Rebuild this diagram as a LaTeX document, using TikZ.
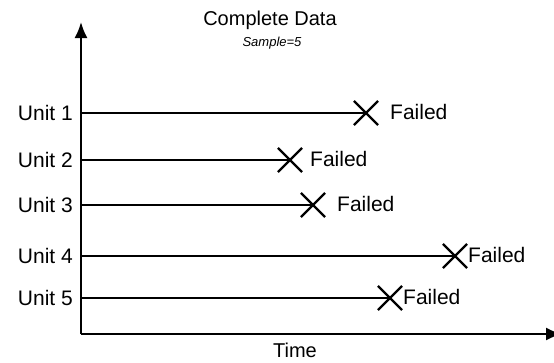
\documentclass[tikz,border=0pt]{standalone}
\usepackage{fontspec}
\setmainfont{Liberation Sans}
\usetikzlibrary{arrows.meta,shapes.misc}
\begin{document}
\begin{tikzpicture}[x=1pt,y=-1pt,
  axisline/.style={line width=2pt,-{Latex[length=16pt,width=13pt]}},
  unitline/.style={line width=2pt},
  failmark/.style={cross out,draw,line width=2.2pt,minimum size=22pt,inner sep=0pt},
  lbl/.style={font=\fontsize{21}{25}\selectfont,inner sep=0pt},
  unitlbl/.style={lbl,anchor=east},
  faillbl/.style={lbl,anchor=west}]
\useasboundingbox (0,0) rectangle (554,362);
\coordinate (o) at (81,334);
\coordinate (ytop) at (81,22);
\coordinate (xend) at (562,334);
\draw[axisline] (o) -- (ytop);
\draw[axisline] (o) -- (xend);
\node[lbl,font=\fontsize{20}{24}\selectfont] (title) at (270,20) {Complete Data};
\node[lbl,font=\fontsize{13}{16}\selectfont\itshape] (sample) at (272,43) {Sample=5};
\node[lbl,font=\fontsize{20}{24}\selectfont] (time) at (295,350) {Time};
% units
\foreach \i/\y/\xx/\fx in {1/113/366/390, 2/160/290/310, 3/205/313/337, 4/256/455/468, 5/298/390/403}{
  \node[unitlbl] (u\i) at (73,\y) {Unit \i};
  \coordinate (s\i) at (81,\y);
  \node[failmark] (x\i) at (\xx,\y) {};
  \node[faillbl] (f\i) at (\fx,\y-1) {Failed};
  \draw[unitline] (s\i) -- (x\i.center);
}
\end{tikzpicture}
\end{document}
